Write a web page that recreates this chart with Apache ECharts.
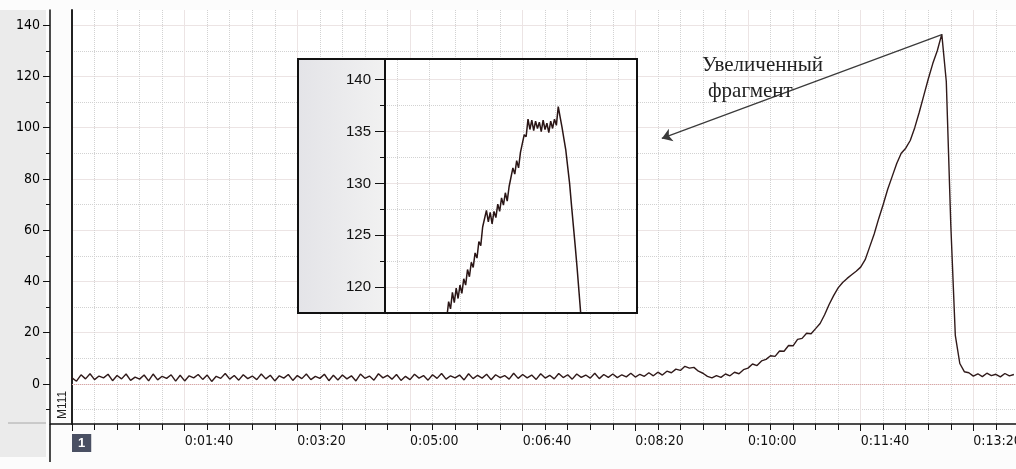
<!DOCTYPE html>
<html>
<head>
<meta charset="utf-8">
<script src="https://cdn.jsdelivr.net/npm/echarts@6/dist/echarts.min.js"></script>
<style>
html, body { margin: 0; padding: 0; background: #fcfcfc; }
#chart { width: 1016px; height: 469px; }
</style>
</head>
<body>
<div id="chart"></div>
<script>
// main record, one sample every 4 s starting at 0:00:00
var sampleStep = 4;
var signal = [
    2.4, 1.1, 3.6, 2.0, 4.0, 1.7, 3.1, 2.4, 3.8, 1.3,
    3.3, 2.0, 3.9, 1.4, 2.7, 1.9, 3.5, 1.2, 3.9, 1.6,
    3.0, 2.2, 3.6, 1.1, 3.4, 1.2, 3.2, 2.4, 3.7, 1.8,
    3.5, 1.0, 3.0, 2.2, 4.1, 1.9, 3.3, 1.5, 3.6, 2.1,
    3.1, 1.7, 3.9, 2.0, 3.4, 1.2, 3.2, 2.3, 3.7, 1.4,
    3.3, 2.1, 3.9, 1.7, 3.0, 2.2, 3.8, 1.3, 3.4, 1.6,
    3.5, 2.0, 3.2, 1.2, 3.9, 2.2, 3.1, 1.5, 4.0, 2.4,
    3.4, 1.9, 3.7, 1.4, 3.0, 1.7, 3.8, 2.3, 3.3, 1.5,
    3.6, 2.2, 4.1, 1.9, 3.2, 2.4, 3.5, 1.6, 4.0, 2.1,
    3.4, 2.3, 3.8, 1.7, 3.6, 2.5, 3.3, 1.9, 4.2, 2.2,
    3.7, 2.4, 3.5, 1.8, 4.0, 2.3, 3.4, 2.0, 4.1, 2.5,
    3.6, 1.9, 3.9, 2.6, 3.5, 2.3, 4.2, 2.1, 3.7, 2.6,
    3.9, 2.5, 3.6, 2.8, 4.2, 2.7, 3.8, 3.0, 4.4, 3.2,
    4.6, 3.5, 5.0, 4.4, 5.8, 5.3, 6.9, 6.2, 6.5, 5.0,
    4.2, 3.0, 2.4, 3.3, 2.6, 3.9, 3.2, 4.6, 4.0, 5.6,
    6.2, 7.8, 7.2, 9.0, 9.6, 11.0, 10.8, 12.9, 12.8, 15.0,
    14.9, 17.4, 17.8, 19.8, 19.6, 21.6, 23.6, 27.0, 31.0, 34.5,
    37.5, 39.6, 41.2, 42.6, 44.0, 45.6, 48.5, 53.5, 58.5, 64.5,
    70.0, 76.0, 81.0, 86.0, 90.0, 92.0, 95.0, 100.0, 106.0, 112.5,
    119.0, 125.0, 130.0, 136.5, 118.0, 62.0, 19.0, 8.0, 4.8, 4.4,
    3.1, 4.0, 2.9, 4.2, 3.3, 3.8, 2.8, 4.1, 3.2, 3.7
];

// enlarged fragment, one sample every 0.3 s of its own time scale
var insetStart = 9.8;
var insetStep = 0.3;
var insetSignal = [
    117.0, 118.6, 117.9, 119.5, 118.5, 119.9, 118.9, 120.2, 119.4, 120.8,
    120.2, 121.7, 121.0, 122.4, 121.9, 123.3, 122.8, 124.4, 124.0, 125.8,
    125.7, 127.4, 126.3, 127.2, 126.1, 127.3, 126.7, 128.0, 127.3, 128.6,
    127.9, 129.1, 128.3, 129.7, 129.7, 131.5, 130.9, 132.2, 131.5, 133.0,
    132.9, 134.7, 134.5, 136.2,
    135.2, 136.1, 135.1, 136.0, 135.3, 135.9, 135.0, 136.1, 135.2, 135.8,
    134.9, 136.0, 135.3, 136.2, 135.6,
    137.4, 136.4, 135.4, 134.3, 133.2, 131.6, 130.0, 127.9, 125.9, 123.9,
    121.8, 119.5, 117.2
];

var yTicks = [0, 20, 40, 60, 80, 100, 120, 140];
var yMinorTicks = [-10, 10, 30, 50, 70, 90, 110, 130];
var insetTicks = [120, 125, 130, 135, 140];
var insetMinorTicks = [122.5, 127.5, 132.5, 137.5];
var insetGridX = [2, 7, 12, 17, 22, 27, 32, 37];

var arrowFrom = [772, 136.3];
var arrowTo = [523.5, 95.8];
var noteLines = ['Увеличенный', 'фрагмент'];

var mainData = signal.map(function (v, i) { return [i * sampleStep, v]; });
var insetData = insetSignal.map(function (v, i) { return [+(insetStart + i * insetStep).toFixed(1), v]; });

function pad(n) { return n < 10 ? '0' + n : '' + n; }
function fmtTime(s) {
    if (s === 0) return '{box|1}';
    var h = Math.floor(s / 3600), m = Math.floor(s % 3600 / 60), sec = s % 60;
    return h + ':' + pad(m) + ':' + pad(sec);
}

var narrow = "'Liberation Sans Narrow', 'DejaVu Sans Condensed', sans-serif";
var gridSolid = '#ece4e4';
var gridDot = '#d2d2d2';

var chart = echarts.init(document.getElementById('chart'));

var option = {
    backgroundColor: '#fcfcfc',
    animation: false,
    grid: [
        { left: 72, right: -70, top: 10, bottom: 45, show: true, backgroundColor: '#ffffff', borderWidth: 0,
            containLabel: false, outerBoundsMode: 'none' },
        { left: 385, top: 60, width: 252, height: 252, show: false, containLabel: false, outerBoundsMode: 'none' }
    ],
    xAxis: [
        {
            type: 'value', gridIndex: 0, position: 'bottom', min: 0, max: 900, interval: 100, z: 2,
            axisLine: { onZero: false, lineStyle: { color: '#111', width: 1.5 } },
            axisTick: { length: 7, lineStyle: { color: '#111' } },
            minorTick: { show: true, splitNumber: 5, length: 6, lineStyle: { color: '#111' } },
            splitLine: { lineStyle: { color: gridSolid } },
            minorSplitLine: { show: true, lineStyle: { color: gridDot, type: 'dotted' } },
            axisLabel: {
                formatter: fmtTime, align: 'left', margin: 10, showMaxLabel: false,
                fontFamily: narrow, fontSize: 14, color: '#111',
                rich: {
                    box: { backgroundColor: '#4a5063', color: '#fff', fontWeight: 'bold',
                        fontSize: 13, fontFamily: 'Liberation Sans', padding: [3, 6, 2, 6] }
                }
            }
        },
        {
            type: 'value', gridIndex: 1, position: 'bottom', min: 0, max: 40, z: 6,
            axisLine: { show: false, onZero: false }, axisLabel: { show: false },
            axisTick: { show: false, customValues: insetGridX },
            splitLine: { show: true, lineStyle: { color: gridDot, type: 'dotted' } }
        }
    ],
    yAxis: [
        // frame line at 0:00:00
        {
            type: 'value', gridIndex: 0, position: 'left', min: -15.6, max: 145.9, z: 2,
            axisLine: { show: true, onZero: false, lineStyle: { color: '#222', width: 2 } },
            axisTick: { show: false }, axisLabel: { show: false }, splitLine: { show: false }
        },
        {
            type: 'value', gridIndex: 0, position: 'left', min: -15.6, max: 145.9, offset: 22, z: 2,
            axisLine: { show: true, onZero: false, lineStyle: { color: '#111', width: 1.5 } },
            axisTick: { show: true, length: 7, customValues: yTicks, lineStyle: { color: '#111' } },
            axisLabel: { customValues: yTicks, margin: 10, fontFamily: narrow, fontSize: 14, color: '#000' },
            splitLine: { show: true, lineStyle: { color: gridSolid } }
        },
        {
            type: 'value', gridIndex: 0, position: 'left', min: -15.6, max: 145.9, offset: 22, z: 2,
            axisLine: { show: false, onZero: false },
            axisTick: { show: true, length: 4, customValues: yMinorTicks, lineStyle: { color: '#111' } },
            axisLabel: { show: false },
            splitLine: { show: true, lineStyle: { color: gridDot, type: 'dotted' } }
        },
        {
            type: 'value', gridIndex: 1, position: 'left', min: 117.6, max: 141.9, z: 6,
            axisLine: { show: true, onZero: false, lineStyle: { color: '#111', width: 2 } },
            axisTick: { show: true, length: 10, customValues: insetTicks, lineStyle: { color: '#111' } },
            axisLabel: { customValues: insetTicks, margin: 14, fontFamily: 'Liberation Sans', fontSize: 15, color: '#111' },
            splitLine: { show: true, lineStyle: { color: gridSolid } }
        },
        {
            type: 'value', gridIndex: 1, position: 'left', min: 117.6, max: 141.9, z: 6,
            axisLine: { show: false, onZero: false },
            axisTick: { show: true, length: 5, customValues: insetMinorTicks, lineStyle: { color: '#111' } },
            axisLabel: { show: false },
            splitLine: { show: true, lineStyle: { color: gridDot, type: 'dotted' } }
        }
    ],
    series: [
        {
            type: 'line', xAxisIndex: 0, yAxisIndex: 1, data: mainData, z: 3,
            showSymbol: false, silent: true,
            lineStyle: { color: '#301a1a', width: 1.4 },
            markLine: {
                silent: true, animation: false,
                symbol: ['none', 'none'],
                label: { show: false },
                lineStyle: { color: '#dba4a4', type: 'dotted', width: 1 },
                data: [
                    { yAxis: 0 },
                    [
                        { coord: arrowFrom, lineStyle: { color: '#3a3a3a', type: 'solid', width: 1.2 } },
                        { coord: arrowTo, symbol: 'arrow', symbolSize: 10 }
                    ]
                ]
            }
        },
        {
            type: 'line', xAxisIndex: 1, yAxisIndex: 3, data: insetData, z: 7,
            showSymbol: false, silent: true, clip: true,
            lineStyle: { color: '#2a1515', width: 1.5 }
        }
    ],
    graphic: [
        { type: 'rect', z: 1, shape: { x: 0, y: 10, width: 46, height: 447 }, style: { fill: '#ebebeb' } },
        { type: 'line', z: 1, shape: { x1: 8, y1: 423, x2: 46, y2: 423 }, style: { stroke: '#a8a8a8', lineWidth: 1 } },
        { type: 'line', z: 2, shape: { x1: 50, y1: 424, x2: 50, y2: 462 }, style: { stroke: '#111', lineWidth: 1.5 } },
        { type: 'line', z: 2, shape: { x1: 50, y1: 424, x2: 72, y2: 424 }, style: { stroke: '#111', lineWidth: 1.5 } },
        { type: 'text', z: 2, x: 63, y: 405, rotation: Math.PI / 2,
            style: { text: 'M111', fill: '#222', font: '12px Liberation Sans', textAlign: 'center', textVerticalAlign: 'middle' } },
        // inset frame
        { type: 'rect', z: 5, shape: { x: 298, y: 59, width: 339, height: 254 }, style: { fill: '#ffffff' } },
        { type: 'rect', z: 5, shape: { x: 299, y: 60, width: 86, height: 252 },
            style: { fill: new echarts.graphic.LinearGradient(0, 0, 1, 0, [{ offset: 0, color: '#e4e4e8' }, { offset: 1, color: '#f1f1f1' }]) } },
        { type: 'rect', z: 8, shape: { x: 298, y: 59, width: 339, height: 254 }, style: { fill: 'none', stroke: '#111', lineWidth: 2 } },
        // note
        { type: 'text', z: 10, x: 702, y: 55, style: { text: noteLines[0], fill: '#222', font: '21px Liberation Serif' } },
        { type: 'text', z: 10, x: 708, y: 81, style: { text: noteLines[1], fill: '#222', font: '21px Liberation Serif' } }
    ]
};

chart.setOption(option);
</script>
</body>
</html>
